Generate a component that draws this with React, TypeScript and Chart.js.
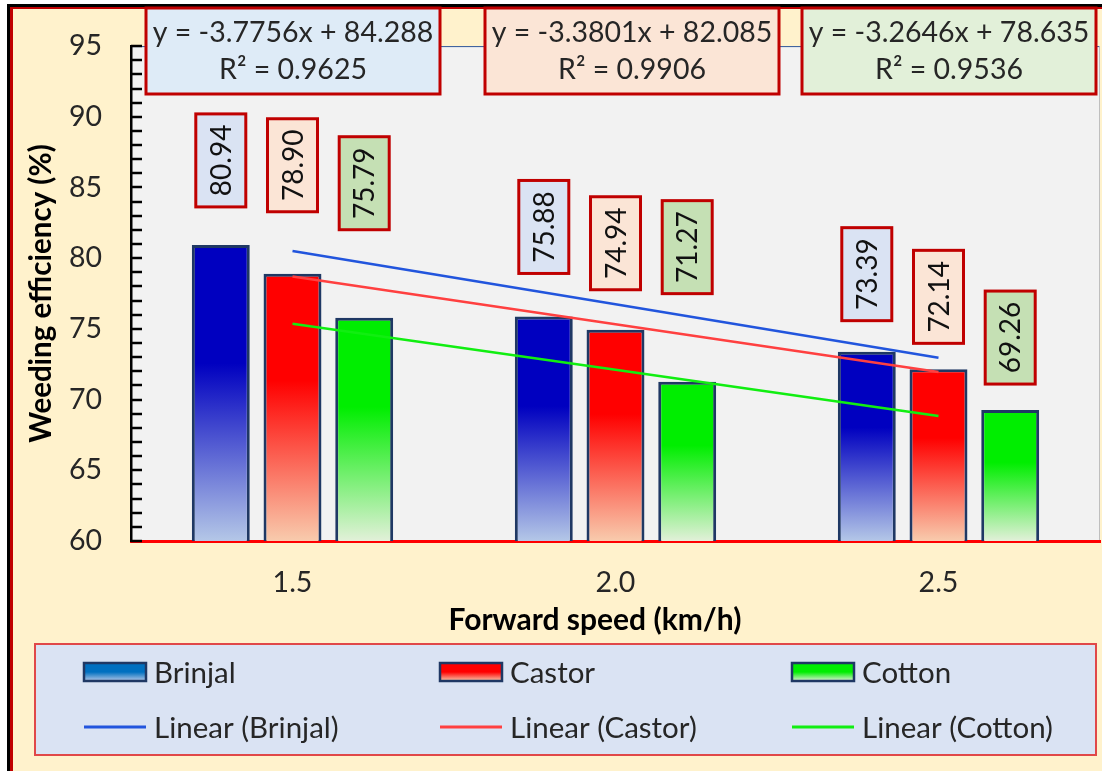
import { useEffect, useRef } from 'react';
import { Chart, registerables } from 'chart.js';

Chart.register(...registerables);

// Forward speed categories (km/h)
const SPEEDS = ['1.5', '2.0', '2.5'];

// Weeding efficiency (%) per crop
const BRINJAL = [80.94, 75.88, 73.39];
const CASTOR = [78.9, 74.94, 72.14];
const COTTON = [75.79, 71.27, 69.26];

const SERIES_NAMES = ['Brinjal', 'Castor', 'Cotton'];

// Linear trend fits (x = category index 1..3)
const TREND_SLOPES = [-3.7756, -3.3801, -3.2646];
const TREND_INTERCEPTS = [84.288, 82.085, 78.635];
const TREND_R2 = [0.9625, 0.9906, 0.9536];

const Y_MIN = 60;
const Y_MAX = 95;
const Y_STEP = 5;

// Styling
const FONT = 'Lato, "Noto Sans", sans-serif';
const TEXT = '#262626';
const BAR_TOP = ['#0000C0', '#FF0000', '#00EE00'];
const BAR_BOTTOM = ['#B4C7E7', '#F8CBAD', '#E2F0D9'];
const SWATCH_TOP = ['#0070C0', '#FF0000', '#00EE00'];
const BAR_BORDER = '#1F3864';
const TREND_COLORS = ['#2255DD', '#FF4040', '#11EE11'];
const LABEL_FILLS = ['#DAE3F3', '#FBE5D6', '#C5E0B4'];
const EQ_FILLS = ['#DEEBF7', '#FBE5D6', '#E2F0D9'];
const BOX_RED = '#C00000';

// Value-label box lift above each bar top, px [series][category]
const LABEL_LIFT = [
  [38, 43, 31],
  [62, 40, 26],
  [88, 88, 26],
];
const EQ_BOX_LEFT = [146, 485, 802];
const LEGEND_COLS = [84, 440, 792];
const LEGEND_ROWS = [672, 727];

const SERIES = [BRINJAL, CASTOR, COTTON];

function barFill(i: number) {
  return (ctx: any) => {
    const chart = ctx.chart;
    const y = chart.scales?.y;
    if (ctx.type !== 'data' || !y) return BAR_TOP[i];
    const top = y.getPixelForValue(ctx.raw);
    const bottom = y.getPixelForValue(Y_MIN);
    if (!isFinite(top) || !isFinite(bottom) || bottom - top < 1) return BAR_TOP[i];
    const g = chart.ctx.createLinearGradient(0, top, 0, bottom);
    g.addColorStop(0, BAR_TOP[i]);
    g.addColorStop(0.4, BAR_TOP[i]);
    g.addColorStop(1, BAR_BOTTOM[i]);
    return g;
  };
}

function trendValues(i: number) {
  return SPEEDS.map((_, k) => TREND_SLOPES[i] * (k + 1) + TREND_INTERCEPTS[i]);
}

const backdrop = {
  id: 'backdrop',
  beforeDraw(chart: any) {
    const { ctx, width, height, chartArea: a } = chart;
    ctx.save();
    ctx.fillStyle = '#FFFFFF';
    ctx.fillRect(0, 0, width, height);
    ctx.fillStyle = '#FFF2CC';
    ctx.fillRect(10, 7, width - 10, height - 7);
    ctx.fillStyle = '#000000';
    ctx.fillRect(7, 4, 3, height - 4);
    ctx.fillRect(7, 4, width - 7, 3);
    ctx.fillStyle = BOX_RED;
    ctx.fillRect(10, 7, 3, height - 7);
    ctx.fillRect(10, 7, width - 10, 2);
    ctx.fillStyle = '#F2F2F2';
    ctx.fillRect(a.left, a.top, a.right - a.left, a.bottom - a.top);
    ctx.strokeStyle = '#2F5597';
    ctx.lineWidth = 1;
    ctx.beginPath();
    ctx.moveTo(a.left, a.top + 0.5);
    ctx.lineTo(a.right, a.top + 0.5);
    ctx.stroke();
    ctx.strokeStyle = '#BFBFBF';
    ctx.beginPath();
    ctx.moveTo(a.right - 0.5, a.top);
    ctx.lineTo(a.right - 0.5, a.bottom);
    ctx.stroke();
    ctx.restore();
  },
};

const annotations = {
  id: 'annotations',
  afterDatasetsDraw(chart: any) {
    const { ctx, chartArea: a } = chart;
    const yScale = chart.scales.y;
    ctx.save();
    // inward tick marks on the value axis
    ctx.strokeStyle = '#000000';
    ctx.lineWidth = 2.5;
    for (let v = Y_MIN; v <= Y_MAX; v += 1) {
      const py = Math.round(yScale.getPixelForValue(v));
      ctx.beginPath();
      ctx.moveTo(a.left, py);
      ctx.lineTo(a.left + 11, py);
      ctx.stroke();
    }
    // value labels in boxes above the bars
    for (let i = 0; i < SERIES.length; i++) {
      const meta = chart.getDatasetMeta(i);
      meta.data.forEach((el: any, j: number) => {
        const w = 50;
        const h = 93;
        const bottom = el.y - LABEL_LIFT[i][j];
        const left = el.x - w / 2;
        ctx.fillStyle = LABEL_FILLS[i];
        ctx.fillRect(left, bottom - h, w, h);
        ctx.strokeStyle = BOX_RED;
        ctx.lineWidth = 3;
        ctx.strokeRect(left, bottom - h, w, h);
        ctx.save();
        ctx.translate(el.x, bottom - h / 2);
        ctx.rotate(-Math.PI / 2);
        ctx.fillStyle = '#111111';
        ctx.font = `28px ${FONT}`;
        ctx.textAlign = 'center';
        ctx.textBaseline = 'middle';
        ctx.fillText(SERIES[i][j].toFixed(2), 0, 1);
        ctx.restore();
      });
    }
    ctx.restore();
  },
  afterDraw(chart: any) {
    const { ctx } = chart;
    ctx.save();
    // trend equations
    for (let i = 0; i < 3; i++) {
      const left = EQ_BOX_LEFT[i];
      const w = 294;
      ctx.fillStyle = EQ_FILLS[i];
      ctx.fillRect(left, 8, w, 86);
      ctx.strokeStyle = BOX_RED;
      ctx.lineWidth = 3;
      ctx.strokeRect(left, 8, w, 86);
      ctx.fillStyle = TEXT;
      ctx.font = `28.5px ${FONT}`;
      ctx.textAlign = 'center';
      ctx.textBaseline = 'middle';
      const cx = left + w / 2;
      ctx.fillText(
        `y = ${TREND_SLOPES[i].toFixed(4)}x + ${TREND_INTERCEPTS[i].toFixed(3)}`,
        cx,
        33,
      );
      ctx.fillText(`R² = ${TREND_R2[i].toFixed(4)}`, cx, 70);
    }
    // x-axis title
    ctx.fillStyle = '#000000';
    ctx.font = `bold 30px ${FONT}`;
    ctx.textAlign = 'center';
    ctx.textBaseline = 'middle';
    ctx.fillText('Forward speed (km/h)', 595, 620);

    // legend
    ctx.fillStyle = '#DAE3F3';
    ctx.fillRect(35, 644, 1061, 111);
    ctx.strokeStyle = '#E04848';
    ctx.lineWidth = 2;
    ctx.strokeRect(35, 644, 1061, 111);
    const datasets = chart.data.datasets;
    ctx.font = `29.5px ${FONT}`;
    ctx.textAlign = 'left';
    ctx.textBaseline = 'middle';
    for (let i = 0; i < 3; i++) {
      const x = LEGEND_COLS[i];
      const yBar = LEGEND_ROWS[0];
      const g = ctx.createLinearGradient(0, yBar - 9, 0, yBar + 9);
      g.addColorStop(0, SWATCH_TOP[i]);
      g.addColorStop(0.5, SWATCH_TOP[i]);
      g.addColorStop(1, BAR_BOTTOM[i]);
      ctx.fillStyle = g;
      ctx.fillRect(x, yBar - 9, 62, 18);
      ctx.strokeStyle = BAR_BORDER;
      ctx.lineWidth = 2.5;
      ctx.strokeRect(x, yBar - 9, 62, 18);
      ctx.fillStyle = TEXT;
      ctx.fillText(datasets[i].label, x + 70, yBar + 1);

      const yLine = LEGEND_ROWS[1];
      ctx.strokeStyle = datasets[i + 3].borderColor;
      ctx.lineWidth = 3;
      ctx.beginPath();
      ctx.moveTo(x, yLine);
      ctx.lineTo(x + 62, yLine);
      ctx.stroke();
      ctx.fillStyle = TEXT;
      ctx.fillText(datasets[i + 3].label, x + 70, yLine + 1);
    }
    ctx.restore();
  },
};

export default function App() {
  const ref = useRef<HTMLCanvasElement>(null);

  useEffect(() => {
    document.body.style.margin = '0';
    const canvas = ref.current;
    if (!canvas) return;

    const barSets = SERIES.map((values, i) => ({
      type: 'bar' as const,
      label: SERIES_NAMES[i],
      data: values,
      backgroundColor: barFill(i),
      borderColor: BAR_BORDER,
      borderWidth: 3,
      categoryPercentage: 0.666,
      barPercentage: 0.808,
      order: 2,
    }));
    const trendSets = SERIES_NAMES.map((name, i) => ({
      type: 'line' as const,
      label: `Linear (${name})`,
      data: trendValues(i),
      borderColor: TREND_COLORS[i],
      borderWidth: 2.5,
      pointRadius: 0,
      fill: false,
      tension: 0,
      order: 1,
    }));

    const chart = new Chart(canvas, {
      type: 'bar',
      data: { labels: SPEEDS, datasets: [...barSets, ...trendSets] as any },
      options: {
        responsive: false,
        animation: false,
        devicePixelRatio: 1,
        layout: { padding: { left: 0, top: 44, right: 2, bottom: 0 } },
        plugins: {
          legend: { display: false },
          tooltip: { enabled: false },
        },
        scales: {
          x: {
            afterFit: (scale: any) => {
              scale.height = 230;
            },
            grid: { display: false, drawTicks: false },
            border: { display: true, color: '#FF0000', width: 3 },
            ticks: {
              padding: 25,
              color: TEXT,
              font: { family: FONT, size: 28.5 },
            },
          },
          y: {
            min: Y_MIN,
            max: Y_MAX,
            afterFit: (scale: any) => {
              scale.width = 131;
            },
            grid: { display: false, drawTicks: false },
            border: { display: true, color: '#000000', width: 2.5 },
            ticks: {
              stepSize: Y_STEP,
              padding: 29,
              color: TEXT,
              font: { family: FONT, size: 28.5 },
            },
            title: {
              display: true,
              text: 'Weeding efficiency (%)',
              color: '#000000',
              font: { family: FONT, size: 29.5, weight: 'bold' },
              padding: { top: 24, bottom: 0 },
            },
          },
        },
      },
      plugins: [backdrop, annotations],
    });

    return () => chart.destroy();
  }, []);

  return (
    <canvas
      ref={ref}
      width={1102}
      height={771}
      style={{ display: 'block', width: 1102, height: 771 }}
    />
  );
}
